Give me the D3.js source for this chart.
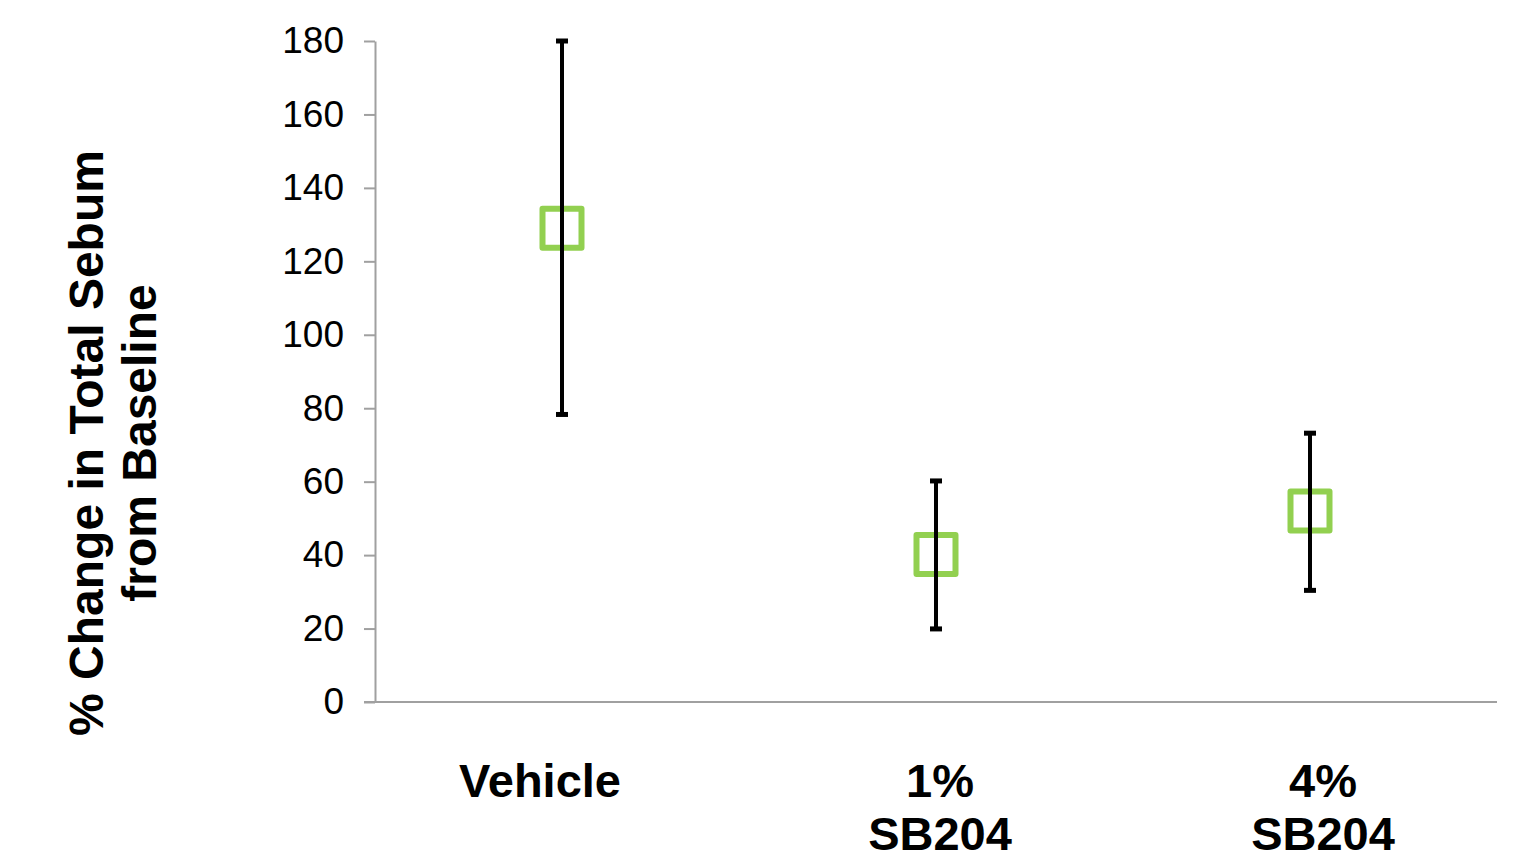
<!DOCTYPE html>
<html lang="en">
<head>
<meta charset="UTF-8">
<title>% Change in Total Sebum from Baseline</title>
<script src="https://d3js.org/d3.v7.min.js"></script>
<style>
  body { margin: 0; background: #fff; }
  svg { display: block; font-family: "Liberation Sans", Arial, sans-serif; }
</style>
</head>
<body>
<svg id="chart"></svg>
<script>
// data
const categories = ["Vehicle", "1% SB204", "4% SB204"];
const labelLines = [["Vehicle"], ["1%", "SB204"], ["4%", "SB204"]];
const means = [129.0, 40.2, 52.0];
const upper = [180, 60.2, 73.2];
const lower = [78.3, 19.9, 30.4];
const yTicks = [0, 20, 40, 60, 80, 100, 120, 140, 160, 180];

const width = 1521, height = 854;
const margin = {top: 41, right: 24, bottom: 152, left: 375};

const svg = d3.select("#chart").attr("width", width).attr("height", height);

const x = d3.scaleBand().domain(categories)
    .range([margin.left, width - margin.right]).padding(0);
const y = d3.scaleLinear().domain([0, 180])
    .range([height - margin.bottom, margin.top]);

const axisColor = "#a0a0a0";

// y axis
const yAxis = svg.append("g")
    .attr("transform", `translate(${margin.left},0)`)
    .call(d3.axisLeft(y).tickValues(yTicks).tickSize(11).tickPadding(20).tickSizeOuter(0));
yAxis.select(".domain").attr("stroke", axisColor).attr("stroke-width", 2);
yAxis.selectAll(".tick line").attr("stroke", axisColor).attr("stroke-width", 2);
yAxis.selectAll(".tick text").attr("font-size", 37).attr("fill", "#000")
    .attr("font-family", "Liberation Sans, Arial, sans-serif");

// x axis line
svg.append("line")
    .attr("x1", margin.left - 11).attr("x2", width - margin.right)
    .attr("y1", y(0)).attr("y2", y(0))
    .attr("stroke", axisColor).attr("stroke-width", 2);

// category labels
const labelDx = [-22, 4, 13];
const lab = svg.append("g").selectAll("text")
    .data(categories)
    .join("text")
    .attr("x", (d, i) => x(d) + x.bandwidth() / 2 + labelDx[i])
    .attr("y", 797)
    .attr("text-anchor", "middle")
    .attr("font-size", 47)
    .attr("font-weight", "bold");
lab.each(function(d, i) {
    d3.select(this).selectAll("tspan")
        .data(labelLines[i])
        .join("tspan")
        .attr("x", x(d) + x.bandwidth() / 2 + labelDx[i])
        .attr("dy", (t, j) => j === 0 ? 0 : 53)
        .text(t => t);
});

// y axis title
const title = svg.append("text")
    .attr("transform", "translate(103,443) rotate(-90)")
    .attr("text-anchor", "middle")
    .attr("font-size", 48)
    .attr("font-weight", "bold");
title.append("tspan").attr("x", 0).attr("dy", 0).text("% Change in Total Sebum");
title.append("tspan").attr("x", 0).attr("dy", 53).text("from Baseline");

// mean markers
const sq = 39;
svg.append("g").selectAll("rect")
    .data(categories)
    .join("rect")
    .attr("x", d => x(d) + x.bandwidth() / 2 - sq / 2)
    .attr("y", (d, i) => y(means[i]) - sq / 2)
    .attr("width", sq).attr("height", sq)
    .attr("fill", "none")
    .attr("stroke", "#92d050")
    .attr("stroke-width", 6)
    .attr("stroke-linejoin", "round");

// error bars
const eb = svg.append("g").attr("stroke", "#000").attr("stroke-width", 4);
categories.forEach((c, i) => {
    const cx = x(c) + x.bandwidth() / 2;
    eb.append("line").attr("x1", cx).attr("x2", cx)
        .attr("y1", y(upper[i])).attr("y2", y(lower[i]));
    [upper[i], lower[i]].forEach(v => {
        eb.append("line").attr("x1", cx - 6).attr("x2", cx + 6)
            .attr("y1", y(v)).attr("y2", y(v))
            .attr("stroke-width", 5);
    });
});
</script>
</body>
</html>
